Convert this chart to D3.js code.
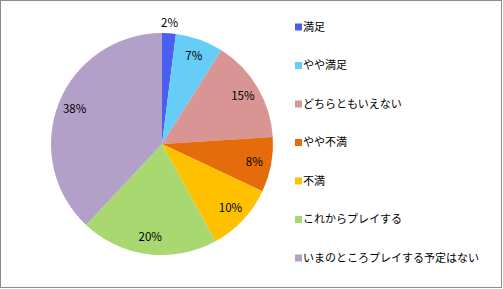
<!DOCTYPE html>
<html>
<head>
<meta charset="utf-8">
<script src="https://cdn.jsdelivr.net/npm/d3@7"></script>
<style>
  body { margin: 0; background: #fff; }
  svg { display: block; }
  text { font-family: "Noto Sans CJK JP", "Noto Sans", sans-serif; fill: #000; }
</style>
</head>
<body>
<svg width="503" height="289"></svg>
<script>
// данные диаграммы
const categories = ["満足", "やや満足", "どちらともいえない", "やや不満", "不満", "これからプレイする", "いまのところプレイする予定はない"];
const values = [2, 7, 15, 8, 10, 20, 38];
const labels = ["2%", "7%", "15%", "8%", "10%", "20%", "38%"];
const colors = ["#4a5ff0", "#65cdf6", "#d99593", "#e46c0a", "#ffc000", "#a9d770", "#b2a0c8"];

const svg = d3.select("svg");

// рамка
svg.append("rect")
    .attr("x", 0.5).attr("y", 0.5)
    .attr("width", 501).attr("height", 287)
    .attr("fill", "#fff")
    .attr("stroke", "#8c8c8c");

const cx = 162, cy = 144, R = 111;

const pie = d3.pie().sort(null).value(d => d.value);
const arcs = pie(categories.map((c, i) => ({ name: c, value: values[i], label: labels[i], color: colors[i] })));

const arc = d3.arc().innerRadius(0).outerRadius(R);
const labelArc = d3.arc().innerRadius(94).outerRadius(94);
const outerArc = d3.arc().innerRadius(121).outerRadius(121);

const g = svg.append("g").attr("transform", `translate(${cx}, ${cy})`);

g.selectAll("path")
    .data(arcs)
    .enter()
    .append("path")
    .attr("d", arc)
    .attr("fill", d => d.data.color);

// подписи процентов (маленький сектор — снаружи)
g.selectAll(".lbl")
    .data(arcs)
    .enter()
    .append("text")
    .attr("class", "lbl")
    .attr("transform", d => {
        const p = (d.endAngle - d.startAngle) < 0.2 ? outerArc.centroid(d) : labelArc.centroid(d);
        return `translate(${p[0]}, ${p[1]})`;
    })
    .attr("text-anchor", "middle")
    .attr("dy", "0.35em")
    .style("font-size", "11.5px")
    .text(d => d.data.label);

// легенда
const legend = svg.append("g").attr("transform", "translate(295, 27)");
const row = 38.5;

legend.selectAll("rect")
    .data(categories)
    .enter()
    .append("rect")
    .attr("x", 0)
    .attr("y", (d, i) => i * row - 3.5)
    .attr("width", 7).attr("height", 7)
    .attr("fill", (d, i) => colors[i]);

legend.selectAll("text")
    .data(categories)
    .enter()
    .append("text")
    .attr("x", 8)
    .attr("y", (d, i) => i * row)
    .attr("dy", "0.35em")
    .style("font-size", "11px")
    .text(d => d);
</script>
</body>
</html>
